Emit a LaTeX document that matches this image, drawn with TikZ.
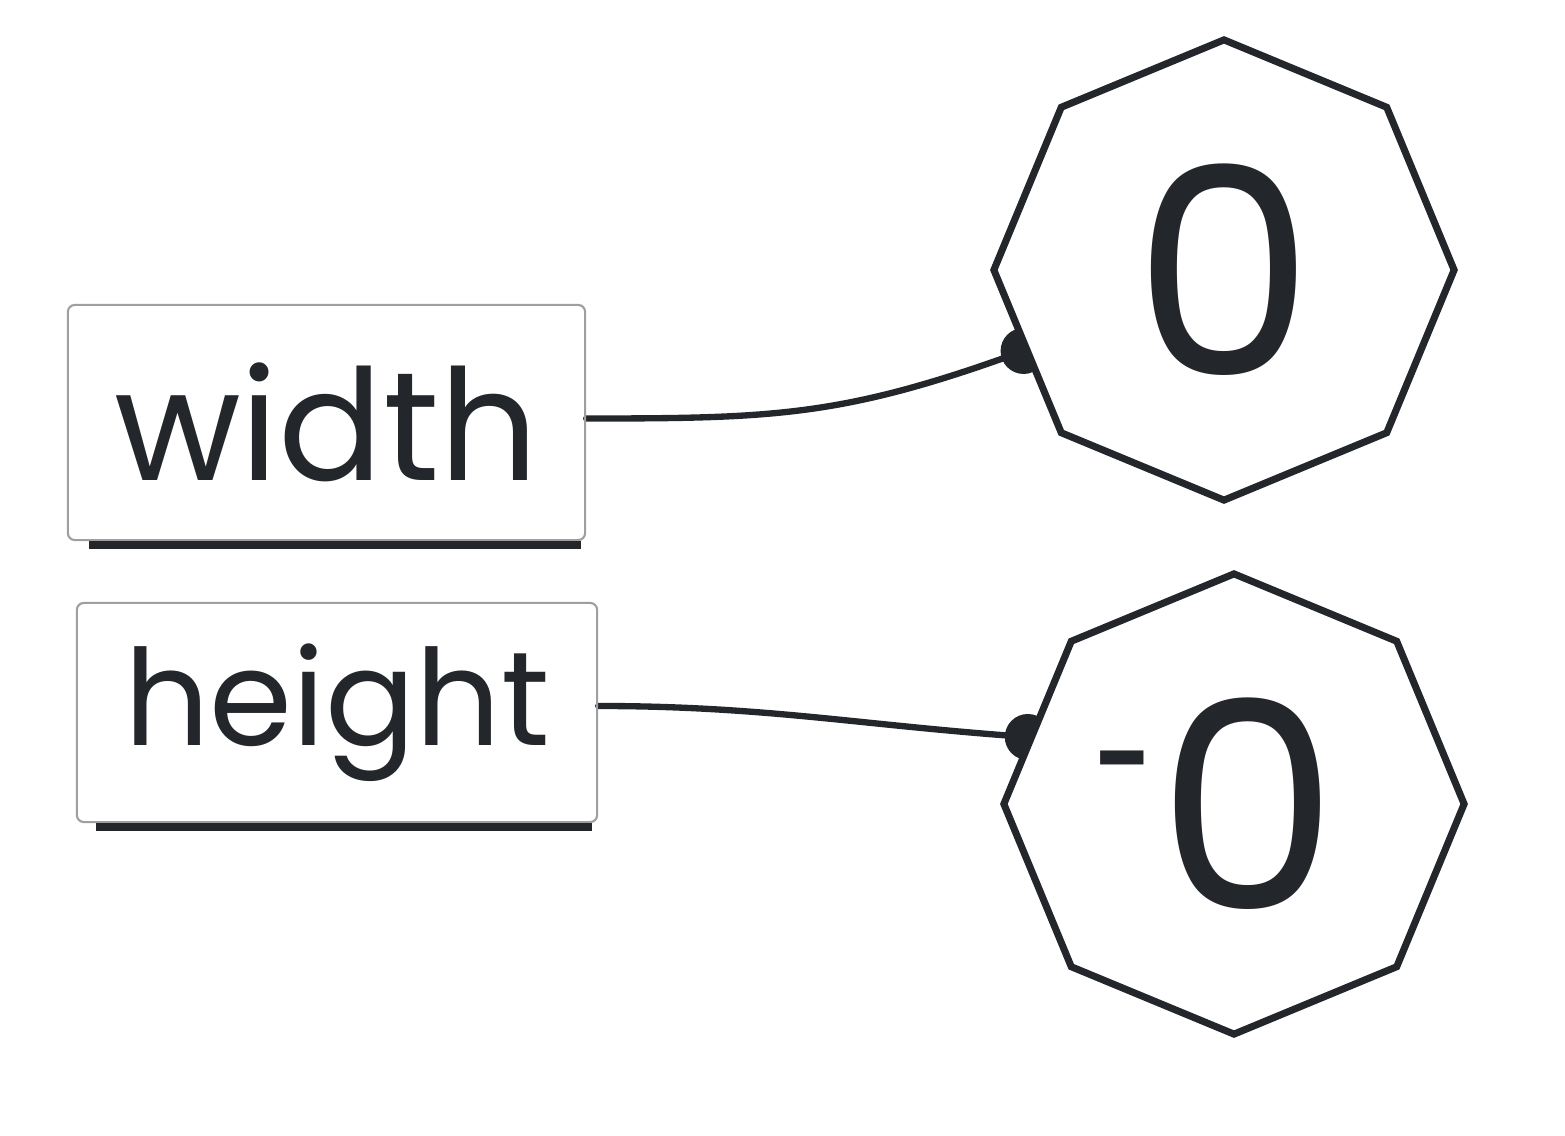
\documentclass[tikz,border=0pt]{standalone}
\usepackage{fontspec}
\usepackage{xcolor}
\usetikzlibrary{shapes.geometric,backgrounds}
\setmainfont{Poppins}
\definecolor{ink}{HTML}{23262B}

\begin{document}
\begin{tikzpicture}[
    x=0.01cm, y=0.01cm,
    field/.style={draw=gray!75, line width=0.6pt, rounded corners=2pt,
      inner sep=0pt, text=ink},
    value/.style={regular polygon, regular polygon sides=8, shape border rotate=22.5,
      minimum size=4.6cm, inner sep=0pt, draw=ink, line width=2pt, fill=white,
      text=ink, font=\fontsize{82}{86}\selectfont},
    shade/.style={ink, line width=2.4pt},
    link/.style={ink, line width=1.8pt, line cap=round},
    pin/.style={fill=ink},
  ]
  \useasboundingbox (0,0) rectangle (1565,1135);

  \node[field, minimum width=5.17cm, minimum height=2.35cm,
    font=\fontsize{44}{48}\selectfont] (w) at (326.5,712.5) {width};
  \node[field, minimum width=5.2cm, minimum height=2.19cm,
    font=\fontsize{38}{42}\selectfont] (h) at (337,422.5) {height};
  \draw[shade] ([xshift=0.22cm,yshift=-0.04cm]w.south west) -- ([xshift=-0.05cm,yshift=-0.04cm]w.south east);
  \draw[shade] ([xshift=0.2cm,yshift=-0.04cm]h.south west) -- ([xshift=-0.06cm,yshift=-0.04cm]h.south east);

  \node[value] (zero) at (1224,865) {\makebox[0pt]{0}};
  \node[value] (negzero) at (1234,331)
    {\makebox[0pt]{\hspace{-0.34cm}\raisebox{1.17cm}{\fontsize{28}{30}\bfseries -}\kern0.05cm 0}};

  \begin{scope}[on background layer]
    \draw[link] ([yshift=0.04cm]w.east) to[out=0, in=200, looseness=1.1] (zero.202);
    \fill[pin] (zero.202) circle (0.23cm);
    \draw[link] ([yshift=0.065cm]h.east) to[out=0, in=176] (negzero.162);
    \fill[pin] (negzero.162) circle (0.23cm);
  \end{scope}
\end{tikzpicture}
\end{document}
